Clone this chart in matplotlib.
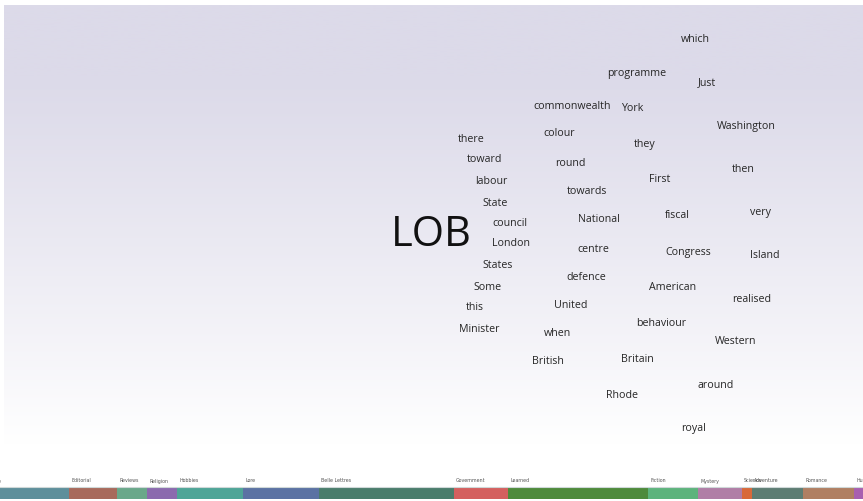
import numpy as np
import matplotlib.pyplot as plt
from matplotlib.colors import LinearSegmentedColormap

# words and where they sit (pixel coords)
words = ["which", "programme", "Just", "commonwealth", "York", "Washington",
         "there", "colour", "they", "toward", "round", "then", "labour",
         "First", "towards", "State", "fiscal", "very", "council", "National",
         "London", "centre", "Congress", "Island", "States", "defence", "Some",
         "American", "realised", "this", "United", "behaviour", "Minister",
         "when", "Western", "British", "Britain", "around", "Rhode", "royal"]
word_x = [695, 637, 707, 572, 632, 746, 471, 559, 645, 484, 570, 743, 491,
          660, 587, 495, 677, 760, 510, 599, 511, 593, 688, 765, 498, 586, 488,
          673, 752, 475, 571, 661, 479, 557, 736, 548, 637, 716, 622, 693]
word_y = [39, 73, 83, 106, 108, 126, 139, 134, 145, 160, 163, 169, 181,
          180, 192, 203, 215, 213, 224, 219, 244, 249, 252, 255, 265, 277, 287,
          288, 299, 308, 305, 324, 329, 334, 342, 362, 359, 385, 395, 429]
title = "LOB"
title_xy = (431, 235)

# genre strip along the bottom
genres = ["Press: Reportage", "Editorial", "Reviews", "Religion", "Hobbies",
          "Lore", "Belle Lettres", "Government", "Learned", "Fiction",
          "Mystery", "Science", "Adventure", "Romance", "Humor"]
sizes = [110, 48, 30, 30, 66, 76, 135, 54, 140, 50, 44, 10, 51, 51, 40]
colors = ["#5e8f9b", "#a86a5c", "#6aa88a", "#8b6aae", "#4ea597", "#5b72a3",
          "#4a7d6c", "#d4605f", "#4e8a3b", "#5db37c", "#b07ea6", "#d8693a",
          "#5d7d73", "#b07f62", "#a85fb0"]
strip_start = -41

fig = plt.figure(figsize=(8.63, 5.01), dpi=100)
ax = fig.add_axes([0, 0, 1, 1])
ax.set_xlim(0, 863)
ax.set_ylim(501, 0)
ax.axis("off")

# lavender to white background
ys = np.linspace(0, 1, 256)
grad = np.clip((ys - 0.15) / 0.8, 0, 1) ** 1.1
cmap = LinearSegmentedColormap.from_list("bg", ["#dcdae9", "#ffffff"])
ax.imshow(grad[:, None], cmap=cmap, vmin=0, vmax=1, aspect="auto",
          extent=(4, 863, 468, 5), zorder=0)

for w, x, y in zip(words, word_x, word_y):
    ax.text(x, y, w, ha="center", va="center", fontsize=7.7,
            family="Open Sans", color="#262626", zorder=3)
ax.text(title_xy[0], title_xy[1], title, ha="center", va="center",
        fontsize=30, family="Open Sans", color="#111111", zorder=3)

lefts = strip_start + np.concatenate([[0], np.cumsum(sizes)[:-1]])
ax.barh(493, sizes, left=lefts, height=12, color=colors, zorder=2)
ax.axhline(486.5, color="#cfd8d8", lw=0.8, zorder=2)
for g, l in zip(genres, lefts):
    ax.text(l + 2, 481, g, ha="left", va="center", fontsize=3.4,
            color="#555555", zorder=3)

fig.savefig("out.png", dpi=100)
